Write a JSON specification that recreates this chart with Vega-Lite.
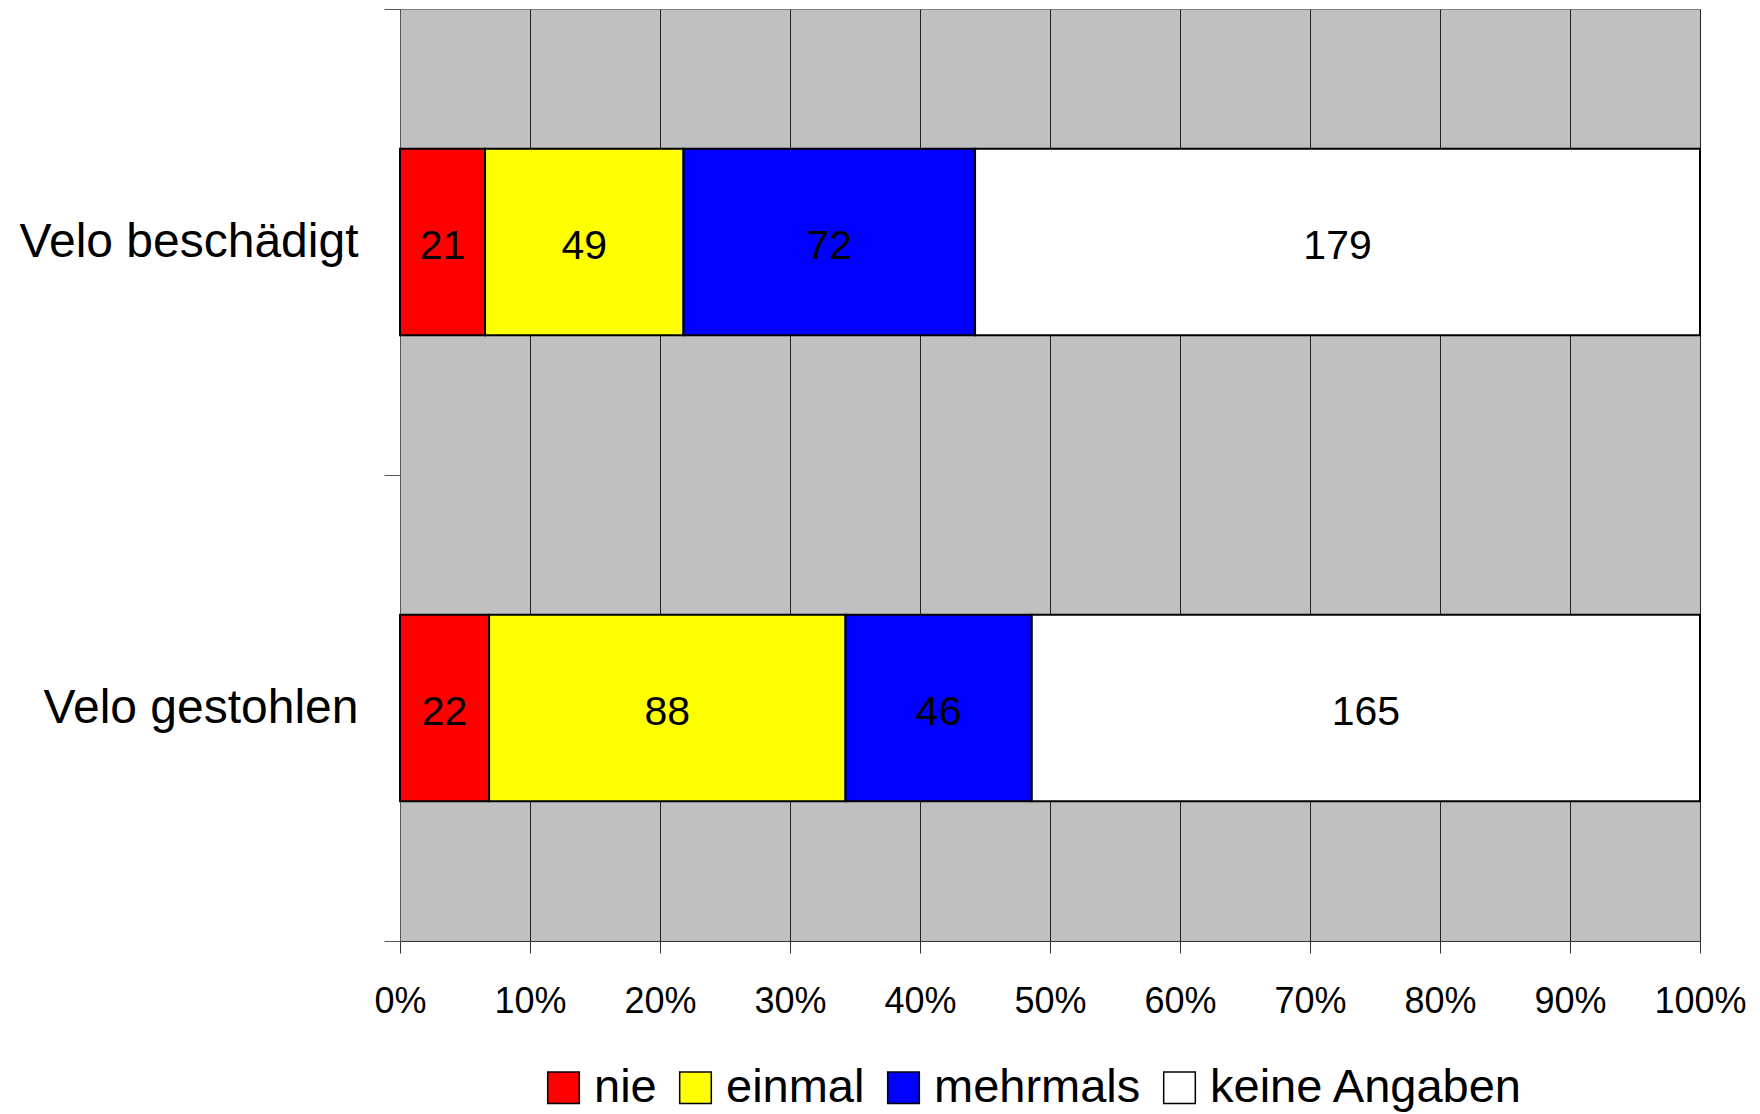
{
  "$schema": "https://vega.github.io/schema/vega-lite/v6.json",
  "width": 1300,
  "height": 932,
  "autosize": "none",
  "padding": {"left": 400, "top": 9, "right": 60, "bottom": 173},
  "background": "white",
  "config": {
    "view": {"fill": "#C0C0C0", "stroke": "#808080", "strokeWidth": 1},
    "font": "Liberation Sans"
  },
  "data": {
    "values": [
      {"item": "Velo beschädigt", "answer": "nie", "order": 1, "count": 21},
      {"item": "Velo beschädigt", "answer": "einmal", "order": 2, "count": 49},
      {"item": "Velo beschädigt", "answer": "mehrmals", "order": 3, "count": 72},
      {"item": "Velo beschädigt", "answer": "keine Angaben", "order": 4, "count": 179},
      {"item": "Velo gestohlen", "answer": "nie", "order": 1, "count": 22},
      {"item": "Velo gestohlen", "answer": "einmal", "order": 2, "count": 88},
      {"item": "Velo gestohlen", "answer": "mehrmals", "order": 3, "count": 46},
      {"item": "Velo gestohlen", "answer": "keine Angaben", "order": 4, "count": 165}
    ]
  },
  "encoding": {
    "y": {
      "field": "item",
      "type": "nominal",
      "sort": ["Velo beschädigt", "Velo gestohlen"],
      "scale": {"paddingInner": 0, "paddingOuter": 0},
      "axis": {
        "title": null,
        "labelFontSize": 48,
        "labelColor": "black",
        "tickBand": "extent",
        "tickSize": 16,
        "tickColor": "#555555",
        "domainColor": "#555555",
        "labelPadding": 26,
        "labelLimit": 0,
        "grid": false
      }
    },
    "order": {"field": "order", "type": "quantitative"}
  },
  "layer": [
    {
      "mark": {"type": "bar", "height": {"band": 0.4}, "stroke": "black", "strokeWidth": 2},
      "encoding": {
        "x": {
          "field": "count",
          "type": "quantitative",
          "stack": "normalize",
          "scale": {"domain": [0, 1]},
          "axis": {
            "title": null,
            "format": ".0%",
            "values": [0, 0.1, 0.2, 0.3, 0.4, 0.5, 0.6, 0.7, 0.8, 0.9, 1],
            "grid": true,
            "gridColor": "#222222",
            "gridWidth": 1,
            "gridOpacity": 1,
            "tickSize": 12,
            "tickColor": "#333333",
            "domainColor": "#333333",
            "labelFontSize": 36,
            "labelColor": "black",
            "labelPadding": 31,
            "labelFlush": false,
            "labelOverlap": false
          }
        },
        "color": {
          "field": "answer",
          "type": "nominal",
          "scale": {
            "domain": ["nie", "einmal", "mehrmals", "keine Angaben"],
            "range": ["#FF0000", "#FFFF00", "#0000FF", "#FFFFFF"]
          },
          "legend": {
            "orient": "none",
            "legendX": 140,
            "legendY": 1055,
            "direction": "horizontal",
            "columns": 4,
            "title": null,
            "symbolType": "square",
            "symbolSize": 1000,
            "symbolStrokeColor": "black",
            "symbolStrokeWidth": 1.5,
            "symbolOpacity": 1,
            "labelFontSize": 47,
            "labelOffset": 7,
            "columnPadding": 15,
            "labelColor": "black",
            "labelLimit": 0,
            "padding": 0
          }
        }
      }
    },
    {
      "mark": {"type": "text", "fontSize": 41, "dy": 5, "color": "black"},
      "encoding": {
        "x": {
          "field": "count",
          "type": "quantitative",
          "stack": "normalize",
          "bandPosition": 0.5
        },
        "detail": {"field": "answer"},
        "text": {"field": "count", "type": "quantitative"}
      }
    }
  ]
}
